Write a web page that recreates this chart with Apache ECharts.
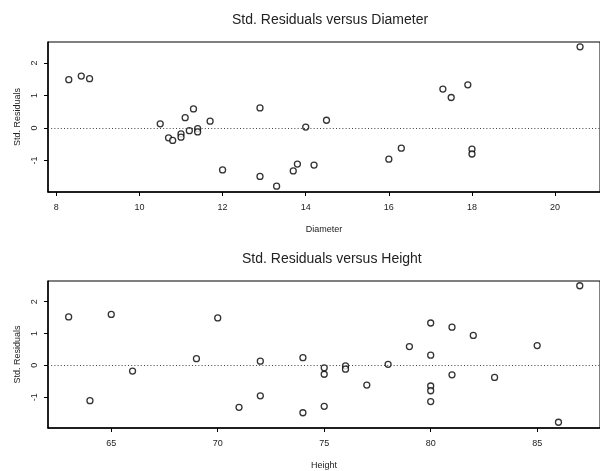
<!DOCTYPE html>
<html>
<head>
<meta charset="utf-8">
<script src="https://cdn.jsdelivr.net/npm/echarts@6/dist/echarts.min.js"></script>
<style>
  html, body { margin: 0; padding: 0; background: #fff; }
  #chart { width: 600px; height: 471px; }
</style>
</head>
<body>
<div id="chart"></div>
<script>
// trees data: diameter / height and the standardized residuals
const diameter = [8.3, 8.6, 8.8, 10.5, 10.7, 10.8, 11.0, 11.0, 11.1, 11.2, 11.3, 11.4, 11.4, 11.7, 12.0, 12.9,
  12.9, 13.3, 13.7, 13.8, 14.0, 14.2, 14.5, 16.0, 16.3, 17.3, 17.5, 17.9, 18.0, 18.0, 20.6];
const height = [70, 65, 63, 72, 81, 83, 66, 75, 80, 75, 79, 76, 76, 69, 75, 74,
  85, 86, 71, 64, 78, 80, 74, 72, 77, 81, 82, 80, 80, 80, 87];
const stdResid = [1.49, 1.60, 1.52, 0.13, -0.30, -0.38, -0.18, -0.28, 0.32, -0.08, 0.59, -0.02, -0.12, 0.21, -1.29, -1.49,
  0.62, -1.79, -1.32, -1.11, 0.03, -1.14, 0.24, -0.96, -0.62, 1.20, 0.94, 1.33, -0.65, -0.80, 2.50];

const diameterTicks = [8, 10, 12, 14, 16, 18, 20];
const heightTicks = [65, 70, 75, 80, 85];
const residTicks = [-1, 0, 1, 2];

const font = 'Liberation Sans, Arial, sans-serif';
const txt = '#222';

function xAxisOpt(idx, name, min, max, ticks) {
  return {
    type: 'value', gridIndex: idx, name: name, nameLocation: 'middle', nameGap: 33,
    nameTextStyle: { fontFamily: font, fontSize: 9, color: txt },
    min: min, max: max,
    axisLine: { show: true, onZero: false, lineStyle: { color: '#000', width: 1.5 } },
    axisTick: { show: true, length: 4, customValues: ticks, lineStyle: { color: '#000' } },
    axisLabel: { customValues: ticks, margin: 11, fontFamily: font, fontSize: 9, color: txt },
    splitLine: { show: false }
  };
}

function yAxisOpt(idx) {
  return {
    type: 'value', gridIndex: idx, name: 'Std. Residuals', nameLocation: 'middle', nameGap: 26,
    nameTextStyle: { fontFamily: font, fontSize: 9, color: txt },
    min: -1.97, max: 2.65,
    axisLine: { show: true, onZero: false, lineStyle: { color: '#000', width: 1.5 } },
    axisTick: { show: true, length: 4, customValues: residTicks, lineStyle: { color: '#000' } },
    axisLabel: { customValues: residTicks, rotate: 90, margin: 9, fontFamily: font, fontSize: 9, color: txt },
    splitLine: { show: false }
  };
}

function scatterOpt(idx, xs) {
  return {
    type: 'scatter', xAxisIndex: idx, yAxisIndex: idx,
    data: xs.map((x, i) => [x, stdResid[i]]),
    symbol: 'circle', symbolSize: 6,
    itemStyle: { color: '#fff', borderColor: '#000', borderWidth: 1.3 },
    emphasis: { disabled: true },
    markLine: {
      silent: true, symbol: 'none', label: { show: false },
      lineStyle: { color: '#444', type: [1, 2.2], width: 1 },
      data: [{ yAxis: 0 }]
    }
  };
}

const chart = echarts.init(document.getElementById('chart'));
chart.setOption({
  animation: false,
  backgroundColor: '#fff',
  title: [
    { text: 'Std. Residuals versus Diameter', left: 227, top: 8,
      textStyle: { fontFamily: font, fontSize: 14, fontWeight: 'normal', color: txt } },
    { text: 'Std. Residuals versus Height', left: 237, top: 247,
      textStyle: { fontFamily: font, fontSize: 14, fontWeight: 'normal', color: txt } }
  ],
  grid: [
    { left: 48, top: 42, width: 562, height: 150, show: true, borderColor: '#000', borderWidth: 1 },
    { left: 48, top: 281, width: 562, height: 149, show: true, borderColor: '#000', borderWidth: 1 }
  ],
  xAxis: [
    xAxisOpt(0, 'Diameter', 7.8, 21.08, diameterTicks),
    xAxisOpt(1, 'Height', 62.03, 87.95, heightTicks)
  ],
  yAxis: [yAxisOpt(0), yAxisOpt(1)],
  series: [scatterOpt(0, diameter), scatterOpt(1, height)]
});
</script>
</body>
</html>
